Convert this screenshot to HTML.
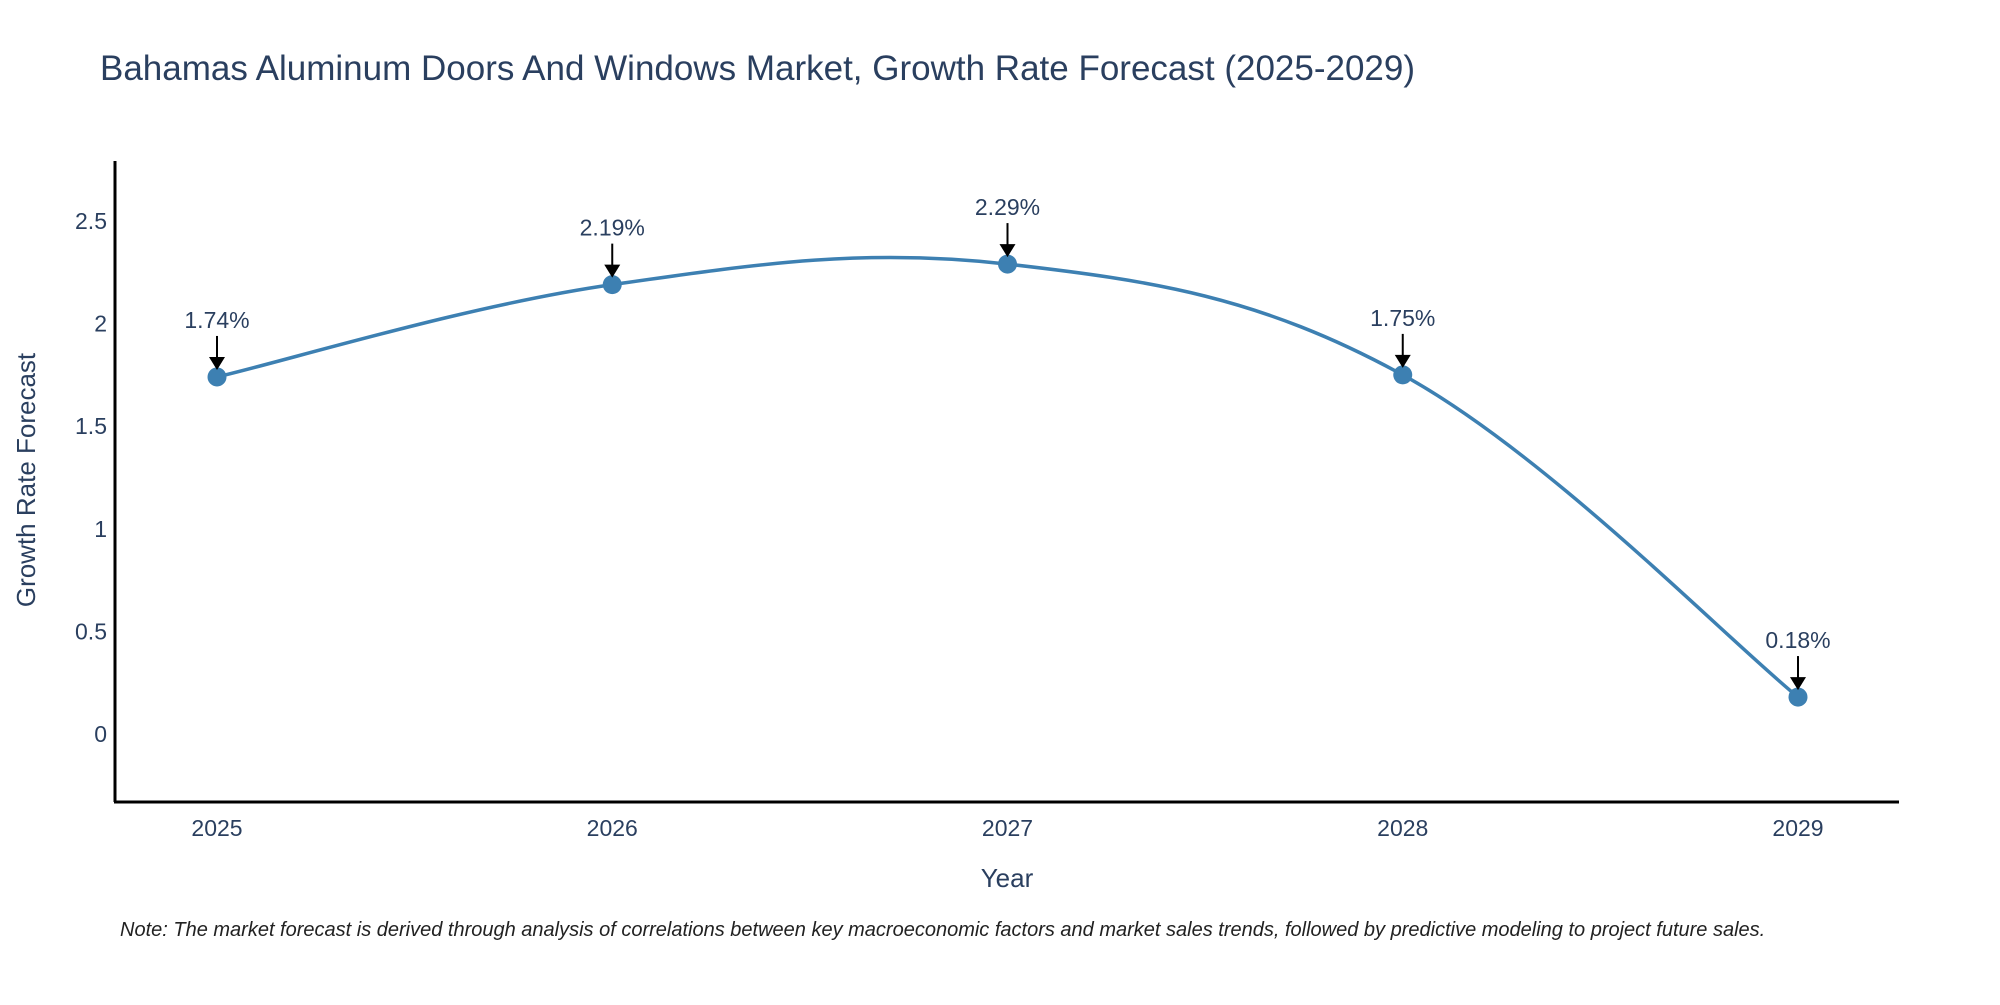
<!DOCTYPE html>
<html><head><meta charset="utf-8"><style>
body{margin:0;background:#fff;width:2000px;height:1000px;overflow:hidden;font-family:"Liberation Sans",sans-serif}
</style></head><body>
<svg id="chart" width="2000" height="1000" xmlns="http://www.w3.org/2000/svg">
<text x="100" y="80" font-size="35" fill="#2a3f5f">Bahamas Aluminum Doors And Windows Market, Growth Rate Forecast (2025-2029)</text>
<line x1="115" y1="161" x2="115" y2="802" stroke="#000" stroke-width="3"/>
<line x1="114" y1="802" x2="1899" y2="802" stroke="#000" stroke-width="3"/>
<text transform="translate(35,480) rotate(-90)" text-anchor="middle" font-size="26" fill="#2a3f5f">Growth Rate Forecast</text>
<text x="1007" y="887" text-anchor="middle" font-size="26" fill="#2a3f5f">Year</text>
<g id="ticks"></g>
<g id="series"></g>
<text x="120" y="936" font-size="20" font-style="italic" fill="#222">Note: The market forecast is derived through analysis of correlations between key macroeconomic factors and market sales trends, followed by predictive modeling to project future sales.</text>
</svg>
<script>
const years = ["2025","2026","2027","2028","2029"];
const values = [1.74, 2.19, 2.29, 1.75, 0.18];
const labels = ["1.74%","2.19%","2.29%","1.75%","0.18%"];
const yTicks = [0, 0.5, 1, 1.5, 2, 2.5];
const yTickLabels = ["0","0.5","1","1.5","2","2.5"];

const NS = "http://www.w3.org/2000/svg";
const xPos = i => 217 + i * (1798 - 217) / (years.length - 1);
const yPos = v => 734 - v * (734 - 221) / 2.5;
function mk(tag, attrs, parent){const e=document.createElementNS(NS,tag);for(const k in attrs)e.setAttribute(k,attrs[k]);parent.appendChild(e);return e;}
const ticks = document.getElementById('ticks');
yTicks.forEach((t,i)=>{
  const e = mk('text',{x:107,y:yPos(t)+8,'text-anchor':'end','font-size':23,fill:'#2a3f5f'},ticks);
  
  
  e.textContent = yTickLabels[i];
});
years.forEach((y,i)=>{
  const e = mk('text',{x:xPos(i),y:836,'text-anchor':'middle','font-size':23,fill:'#2a3f5f'},ticks);
  
  
  e.textContent = y;
});
const s = document.getElementById('series');
const pts = values.map((v,i)=>[xPos(i),yPos(v)]);
let d = `M${pts[0][0]},${pts[0][1]}`;
for(let i=0;i<pts.length-1;i++){
  const p0=pts[Math.max(0,i-1)],p1=pts[i],p2=pts[i+1],p3=pts[Math.min(pts.length-1,i+2)];
  const t=1/5.5;
  const c1=[p1[0]+(p2[0]-p0[0])*t,p1[1]+(p2[1]-p0[1])*t];
  const c2=[p2[0]-(p3[0]-p1[0])*t,p2[1]-(p3[1]-p1[1])*t];
  d+=` C${c1[0]},${c1[1]} ${c2[0]},${c2[1]} ${p2[0]},${p2[1]}`;
}
const line = mk('path',{d:d,fill:'none',stroke:'#3d80b2','stroke-width':3.5},s);


pts.forEach((p,i)=>{
  const c = mk('circle',{cx:p[0],cy:p[1],r:9.5,fill:'#3d80b2'},s);
  
  
  const a = mk('line',{x1:p[0],y1:p[1]-41,x2:p[0],y2:p[1]-16,stroke:'#000','stroke-width':2},s);
  
  
  const h = mk('path',{d:`M${p[0]-8},${p[1]-20} L${p[0]+8},${p[1]-20} L${p[0]},${p[1]-7} Z`,fill:'#000'},s);
  
  
  const t = mk('text',{x:p[0],y:p[1]-49,'text-anchor':'middle','font-size':23,fill:'#2a3f5f'},s);
  
  
  t.textContent = labels[i];
});
</script>
</body></html>
